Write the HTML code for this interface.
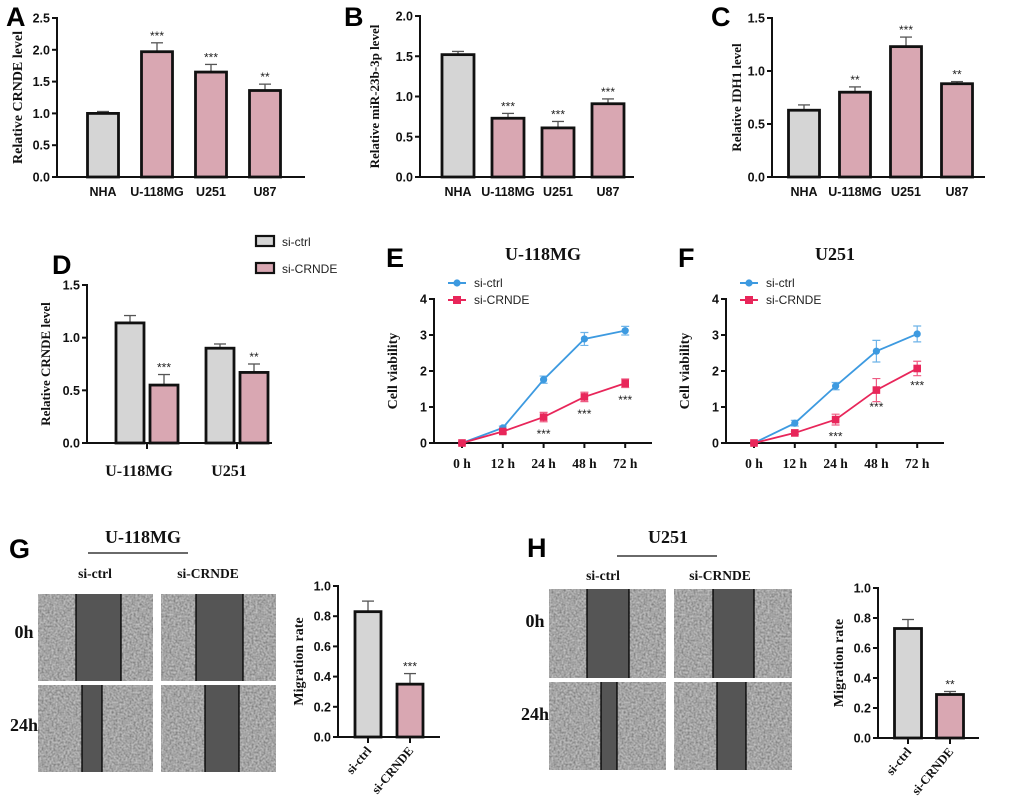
<!DOCTYPE html>
<html><head><meta charset="utf-8">
<style>
html,body{margin:0;padding:0;background:#fff;}
svg{display:block;}
.tk{font-family:"Liberation Sans",Arial,sans-serif;font-weight:bold;font-size:12.5px;fill:#111;}
.sf{font-family:"Liberation Serif","Times New Roman",serif;font-weight:bold;fill:#111;}
.let{font-family:"Liberation Sans",Arial,sans-serif;font-weight:bold;font-size:27px;fill:#000;}
.lg{font-family:"Liberation Sans",Arial,sans-serif;font-size:12px;fill:#222;}
</style></head>
<body>
<svg id="fig" width="1020" height="798" viewBox="0 0 1020 798" xmlns="http://www.w3.org/2000/svg">
<defs>
<filter id="cells" x="0" y="0" width="100%" height="100%">
<feTurbulence type="fractalNoise" baseFrequency="0.5" numOctaves="2" seed="3"/>
<feColorMatrix type="matrix" values="0.55 0 0 0 0.1  0.55 0 0 0 0.1  0.55 0 0 0 0.1  0 0 0 0 1"/>
</filter>
</defs>
<text class="let" x="6" y="26">A</text>
<text class="let" x="344" y="26">B</text>
<text class="let" x="711" y="26">C</text>
<text class="let" x="52" y="274">D</text>
<text class="let" x="386" y="267">E</text>
<text class="let" x="678" y="267">F</text>
<text class="let" x="9" y="558">G</text>
<text class="let" x="527" y="557">H</text>
<g id="root"></g>
</svg>
<script>
// ---------- data ----------
const cellLines = ["NHA","U-118MG","U251","U87"];
const aVals = [1.00,1.97,1.65,1.36];
const aErrs = [0.03,0.14,0.12,0.10];
const aStars = ["","***","***","**"];
const aTicks = ["0.0","0.5","1.0","1.5","2.0","2.5"];
const bVals = [1.52,0.73,0.61,0.91];
const bErrs = [0.04,0.06,0.08,0.06];
const bStars = ["","***","***","***"];
const bTicks = ["0.0","0.5","1.0","1.5","2.0"];
const cVals = [0.63,0.80,1.23,0.88];
const cErrs = [0.05,0.05,0.09,0.02];
const cStars = ["","**","***","**"];
const cTicks = ["0.0","0.5","1.0","1.5"];
const dGroups = ["U-118MG","U251"];
const dCtrl = [1.14,0.90];
const dCtrlErr = [0.07,0.04];
const dKd = [0.55,0.67];
const dKdErr = [0.10,0.08];
const dStars = ["***","**"];
const dTicks = ["0.0","0.5","1.0","1.5"];
const timePoints = ["0 h","12 h","24 h","48 h","72 h"];
const eCtrl = [0,0.42,1.76,2.89,3.12];
const eCtrlErr = [0.03,0.05,0.10,0.18,0.12];
const eKd = [0,0.32,0.72,1.28,1.66];
const eKdErr = [0.03,0.05,0.13,0.13,0.12];
const eStars = ["","","***","***","***"];
const fCtrl = [0,0.55,1.58,2.55,3.03];
const fCtrlErr = [0.03,0.08,0.10,0.30,0.22];
const fKd = [0,0.28,0.65,1.47,2.07];
const fKdErr = [0.03,0.04,0.15,0.32,0.20];
const fStars = ["","","***","***","***"];
const lineTicks = ["0","1","2","3","4"];
const migGroups = ["si-ctrl","si-CRNDE"];
const gVals = [0.83,0.35];
const gErrs = [0.07,0.07];
const gStars = ["","***"];
const hVals = [0.73,0.29];
const hErrs = [0.06,0.02];
const hStars = ["","**"];
const migTicks = ["0.0","0.2","0.4","0.6","0.8","1.0"];

const NS="http://www.w3.org/2000/svg";
const root=document.getElementById('root');
function mk(tag,attrs,txt){const e=document.createElementNS(NS,tag);for(const k in attrs)e.setAttribute(k,attrs[k]);if(txt!==undefined)e.textContent=txt;root.appendChild(e);return e;}
const GRAY="#d5d5d5",PINK="#d9a7b2";

function yAxis(ax,y0,ytop,ticks,xend,title,titleX,fs){
  const n=ticks.length-1;
  const a=mk('line',{x1:ax,y1:ytop-1,x2:ax,y2:y0,stroke:'#111','stroke-width':2});
  
  
  const b=mk('line',{x1:ax-1,y1:y0,x2:xend,y2:y0,stroke:'#111','stroke-width':2});
  
  
  ticks.forEach((t,i)=>{const y=y0-(y0-ytop)*i/n;
    const tl=mk('line',{x1:ax-5,y1:y,x2:ax,y2:y,stroke:'#111','stroke-width':2});
    
    
    const tx=mk('text',{x:ax-7,y:y+4.5,'text-anchor':'end',class:'tk'},t);
    
    });
  const my=(y0+ytop)/2;
  const tt=mk('text',{x:titleX,y:my,'text-anchor':'middle',class:'sf','font-size':fs||13,transform:`rotate(-90 ${titleX} ${my})`},title);
  
  
}
function bar(cx,w,v,e,y0,sc,fill,star){
  const top=y0-v*sc, et=y0-(v+e)*sc;
  const el=mk('line',{x1:cx,y1:top,x2:cx,y2:et,stroke:'#555','stroke-width':1.3});
  
  
  const ec=mk('line',{x1:cx-6,y1:et,x2:cx+6,y2:et,stroke:'#555','stroke-width':1.3});
  
  
  const r=mk('rect',{x:cx-w/2,y:top,width:w,height:v*sc,fill:fill,stroke:'#111','stroke-width':2.8});
  
  
  if(star){const s=mk('text',{x:cx,y:et-3,'text-anchor':'middle',class:'lg','font-size':14},star);
    
    }
}
function barPanel(cfg,cats,vals,errs,stars,ticks){
  const ymax=parseFloat(ticks[ticks.length-1]);
  const sc=(cfg.y0-cfg.ytop)/ymax;
  yAxis(cfg.ax,cfg.y0,cfg.ytop,ticks,cfg.xend,cfg.title,cfg.tx,cfg.fs);
  vals.forEach((v,i)=>{const cx=cfg.ax+cfg.first+i*cfg.step;
    bar(cx,cfg.w,v,errs[i],cfg.y0,sc,i===0?GRAY:PINK,stars[i]);
    const l=mk('text',{x:cx,y:cfg.y0+19,'text-anchor':'middle',class:'tk','font-size':13},cats[i]);
    
    });
}
barPanel({ax:57,y0:177,ytop:18,xend:305,first:46,step:54,w:31,title:"Relative CRNDE level",tx:22,fs:14},cellLines,aVals,aErrs,aStars,aTicks);
barPanel({ax:420,y0:177,ytop:16,xend:634,first:38,step:50,w:32,title:"Relative miR-23b-3p level",tx:379,fs:13},cellLines,bVals,bErrs,bStars,bTicks);
barPanel({ax:772,y0:177,ytop:18,xend:985,first:32,step:51,w:31,title:"Relative IDH1 level",tx:741,fs:13},cellLines,cVals,cErrs,cStars,cTicks);

// D grouped
(function(){
  const ax=87,y0=443,ytop=285;const ymax=parseFloat(dTicks[dTicks.length-1]);const sc=(y0-ytop)/ymax;
  yAxis(ax,y0,ytop,dTicks,272,"Relative CRNDE level",50,13);
  dGroups.forEach((g,i)=>{const gc=ax+60+i*90;
    bar(gc-17,28,dCtrl[i],dCtrlErr[i],y0,sc,GRAY,"");
    bar(gc+17,28,dKd[i],dKdErr[i],y0,sc,PINK,dStars[i]);
    const t=mk('line',{x1:gc,y1:y0,x2:gc,y2:y0+6,stroke:'#111','stroke-width':2});
    
    
    const l=mk('text',{x:gc-8,y:y0+33,'text-anchor':'middle',class:'sf','font-size':16},g);
    
    });
  [[GRAY,"si-ctrl",241],[PINK,"si-CRNDE",268]].forEach(([c,t,y])=>{
    const r=mk('rect',{x:256,y:y-5,width:18,height:10,fill:c,stroke:'#111','stroke-width':2.2});
    
    
    const tx=mk('text',{x:282,y:y+5,class:'lg','font-size':13},t);
    
    });
})();

// E/F line charts
function linePanel(off,title,ctrl,ctrlErr,kd,kdErr,stars){
  const ax=434+off,y0=443,ytop=299,xend=652+off;const ymax=parseFloat(lineTicks[lineTicks.length-1]);const sc=(y0-ytop)/ymax;
  yAxis(ax,y0,ytop,lineTicks,xend,"Cell viability",ax-37,14);
  const xs=timePoints.map((t,i)=>ax+28+i*40.8);
  timePoints.forEach((t,i)=>{
    const tk=mk('line',{x1:xs[i],y1:y0,x2:xs[i],y2:y0+5,stroke:'#111','stroke-width':2});
    
    
    const l=mk('text',{x:xs[i],y:y0+25,'text-anchor':'middle',class:'sf','font-size':13.5},t);
    
    });
  const ti=mk('text',{x:ax+109,y:260,'text-anchor':'middle',class:'sf','font-size':18},title);
  
  
  [[ctrl,ctrlErr,'#3d9ae0','circle'],[kd,kdErr,'#e8265a','square']].forEach(([vals,errs,col,shape],si)=>{
    const pts=vals.map((v,i)=>xs[i]+','+(y0-v*sc)).join(' ');
    const pl=mk('polyline',{points:pts,fill:'none',stroke:col,'stroke-width':1.8});
    
    
    vals.forEach((v,i)=>{const y=y0-v*sc,e=errs[i]*sc;
      const eb=mk('path',{d:`M${xs[i]} ${y-e}V${y+e}M${xs[i]-4} ${y-e}H${xs[i]+4}M${xs[i]-4} ${y+e}H${xs[i]+4}`,stroke:col,'stroke-width':1.2,fill:'none',opacity:0.75});
      
      
      let m;
      if(shape==='circle')m=mk('circle',{cx:xs[i],cy:y,r:3.6,fill:col});
      else m=mk('rect',{x:xs[i]-3.8,y:y-3.8,width:7.6,height:7.6,fill:col});
      
      });
    const ly=283+si*17;
    const ll=mk('line',{x1:ax+14,y1:ly,x2:ax+32,y2:ly,stroke:col,'stroke-width':2});
    
    
    let lm;
    if(shape==='circle')lm=mk('circle',{cx:ax+23,cy:ly,r:3.6,fill:col});
    else lm=mk('rect',{x:ax+19,y:ly-4,width:8,height:8,fill:col});
    
    
    const lt=mk('text',{x:ax+40,y:ly+4,class:'lg','font-size':13},si?'si-CRNDE':'si-ctrl');
    
    
  });
  stars.forEach((s,i)=>{if(!s)return;const y=y0-kd[i]*sc+21;
    const st=mk('text',{x:xs[i],y:y,'text-anchor':'middle',class:'lg','font-size':14},s);
    
    });
}
linePanel(0,"U-118MG",eCtrl,eCtrlErr,eKd,eKdErr,eStars);
linePanel(292,"U251",fCtrl,fCtrlErr,fKd,fKdErr,fStars);

// Migration bar charts
function migPanel(ax,y0,ytop,xend,vals,errs,stars,w){
  const ymax=parseFloat(migTicks[migTicks.length-1]);const sc=(y0-ytop)/ymax;
  yAxis(ax,y0,ytop,migTicks,xend,"Migration rate",ax-35,14);
  vals.forEach((v,i)=>{const cx=ax+30+i*42;
    bar(cx,w,v,errs[i],y0,sc,i===0?GRAY:PINK,stars[i]);
    const tk=mk('line',{x1:cx,y1:y0,x2:cx,y2:y0+6,stroke:'#111','stroke-width':2});
    
    
    const l=mk('text',{x:cx+4,y:y0+14,'text-anchor':'end',class:'sf','font-size':12.5,transform:`rotate(-50 ${cx+4} ${y0+14})`},migGroups[i]);
    
    });
}
migPanel(338,737,586,440,gVals,gErrs,gStars,26);
migPanel(878,738,588,979,hVals,hErrs,hStars,27);

// Scratch images
function scratch(x,y,w,h,l1,l2,name){
  const b=mk('rect',{x:x,y:y,width:w,height:h,fill:'#707070',filter:'url(#cells)'});
  
  
  const g=mk('rect',{x:l1,y:y,width:l2-l1,height:h,fill:'#555'});
  
  
  [l1,l2].forEach(lx=>{const l=mk('line',{x1:lx,y1:y,x2:lx,y2:y+h,stroke:'#000','stroke-width':1.3});
    
    });
}
scratch(38,594,115,87,76,121,'scratch-image-g-ctrl-0h');
scratch(161,594,115,87,196,243,'scratch-image-g-crnde-0h');
scratch(38,685,115,87,82,102,'scratch-image-g-ctrl-24h');
scratch(161,685,115,87,205,239,'scratch-image-g-crnde-24h');
scratch(549,589,117,89,587,629,'scratch-image-h-ctrl-0h');
scratch(674,589,118,89,713,754,'scratch-image-h-crnde-0h');
scratch(549,682,117,88,601,617,'scratch-image-h-ctrl-24h');
scratch(674,682,118,88,717,746,'scratch-image-h-crnde-24h');

// labels for G/H
[[143,543,"U-118MG",88,188,553],[668,543,"U251",617,717,556]].forEach(([x,y,t,a,b,ly])=>{
  const tx=mk('text',{x:x,y:y,'text-anchor':'middle',class:'sf','font-size':18},t);
  
  
  const l=mk('line',{x1:a,y1:ly,x2:b,y2:ly,stroke:'#111','stroke-width':1.3});
  
  });
[[95,578,"si-ctrl"],[208,578,"si-CRNDE"],[603,580,"si-ctrl"],[720,580,"si-CRNDE"]].forEach(([x,y,t])=>{
  const tx=mk('text',{x:x,y:y,'text-anchor':'middle',class:'sf','font-size':13.5},t);
  
  });
[[24,638,"0h"],[24,731,"24h"],[535,627,"0h"],[535,720,"24h"]].forEach(([x,y,t])=>{
  const tx=mk('text',{x:x,y:y,'text-anchor':'middle',class:'sf','font-size':18},t);
  
  });
</script>
</body></html>
